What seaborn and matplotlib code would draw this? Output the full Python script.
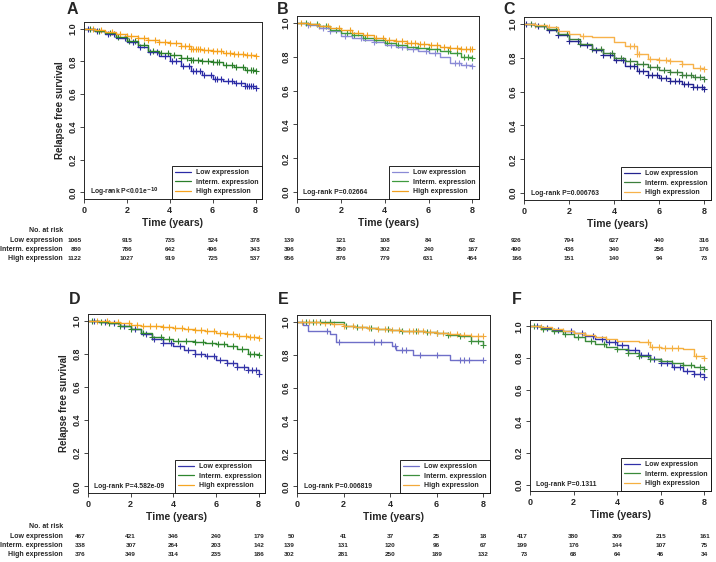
import numpy as np
import seaborn as sns
import matplotlib.pyplot as plt
from matplotlib.lines import Line2D
from matplotlib import transforms

sns.set_style("ticks")
plt.rcParams["font.family"] = ["Liberation Sans", "DejaVu Sans"]
plt.rcParams["font.weight"] = "bold"
plt.rcParams["axes.linewidth"] = 0.7

groups = ["Low expression", "Interm. expression", "High expression"]
tick_times = [0, 2, 4, 6, 8]
t_grid = [0, 0.5, 1, 1.5, 2, 2.5, 3, 3.5, 4, 4.5, 5, 5.5, 6, 6.5, 7, 7.5, 8]

# ---- panel A
a_low = [1.0, 0.985, 0.967, 0.945, 0.917, 0.888, 0.856, 0.832, 0.805, 0.772, 0.738, 0.715, 0.695, 0.680, 0.665, 0.650, 0.638]
a_mid = [1.0, 0.988, 0.970, 0.950, 0.927, 0.897, 0.866, 0.852, 0.840, 0.822, 0.806, 0.800, 0.795, 0.780, 0.764, 0.750, 0.738]
a_high = [1.0, 0.990, 0.977, 0.967, 0.957, 0.943, 0.930, 0.920, 0.910, 0.893, 0.877, 0.868, 0.862, 0.853, 0.846, 0.840, 0.835]
a_low_cens = [0.2, 0.6, 1.1, 1.4, 1.9, 2.3, 2.6, 3.1, 3.4, 3.8, 4.1, 4.3, 4.6, 4.9, 5.1, 5.2, 5.4, 5.6, 5.9, 6.1, 6.2, 6.4, 6.7, 6.9, 7.1, 7.3, 7.5, 7.6, 7.7, 7.8, 7.9, 8.0]
a_mid_cens = [0.3, 0.7, 1.2, 1.6, 2.1, 2.4, 2.8, 3.2, 3.6, 3.9, 4.2, 4.5, 4.8, 5.0, 5.1, 5.3, 5.5, 5.8, 6.0, 6.2, 6.3, 6.6, 6.9, 7.1, 7.4, 7.6, 7.8, 7.9, 8.0]
a_high_cens = [0.4, 0.8, 1.3, 1.7, 2.0, 2.2, 2.5, 2.8, 3.0, 3.3, 3.5, 3.8, 4.0, 4.3, 4.5, 4.7, 4.9, 5.0, 5.1, 5.2, 5.3, 5.4, 5.6, 5.8, 6.0, 6.2, 6.4, 6.6, 6.8, 7.0, 7.2, 7.4, 7.6, 7.8, 8.0]

# ---- panel B
b_low = [1.0, 0.985, 0.970, 0.950, 0.920, 0.910, 0.900, 0.885, 0.870, 0.858, 0.845, 0.832, 0.820, 0.800, 0.760, 0.748, 0.745]
b_mid = [1.0, 0.990, 0.980, 0.960, 0.940, 0.925, 0.910, 0.897, 0.883, 0.870, 0.860, 0.852, 0.845, 0.832, 0.820, 0.800, 0.790]
b_high = [1.0, 0.990, 0.980, 0.970, 0.959, 0.940, 0.925, 0.912, 0.900, 0.890, 0.880, 0.875, 0.870, 0.860, 0.850, 0.847, 0.845]
b_low_cens = [0.5, 1.2, 1.5, 2.2, 2.9, 3.5, 4.3, 4.8, 5.3, 5.9, 6.3, 7.2, 7.4, 7.7, 8.0]
b_mid_cens = [0.4, 0.9, 1.3, 1.8, 2.3, 2.6, 3.1, 3.6, 4.1, 4.6, 5.0, 5.5, 6.0, 6.4, 6.9, 7.3, 7.6, 7.8, 8.0]
b_high_cens = [0.2, 0.6, 1.0, 1.4, 1.9, 2.4, 2.8, 3.2, 3.6, 3.9, 4.2, 4.5, 4.8, 5.0, 5.2, 5.4, 5.6, 5.8, 6.1, 6.4, 6.7, 7.0, 7.3, 7.5, 7.7, 7.9, 8.0]

# ---- panel C
c_low = [1.0, 0.985, 0.965, 0.935, 0.900, 0.872, 0.845, 0.815, 0.787, 0.752, 0.720, 0.700, 0.680, 0.662, 0.645, 0.628, 0.615]
c_mid = [1.0, 0.988, 0.970, 0.940, 0.910, 0.880, 0.850, 0.825, 0.800, 0.780, 0.760, 0.745, 0.730, 0.715, 0.700, 0.688, 0.675]
c_high = [1.0, 0.990, 0.980, 0.960, 0.940, 0.930, 0.923, 0.920, 0.890, 0.870, 0.820, 0.790, 0.785, 0.780, 0.760, 0.740, 0.735]
c_low_cens = [0.1, 0.6, 1.1, 1.5, 2.0, 2.4, 2.8, 3.2, 3.5, 3.8, 4.1, 4.4, 4.7, 4.9, 5.1, 5.3, 5.5, 5.7, 5.9, 6.1, 6.3, 6.5, 6.7, 6.9, 7.1, 7.3, 7.5, 7.7, 7.9, 8.0]
c_mid_cens = [0.3, 0.9, 1.4, 1.9, 2.5, 3.0, 3.4, 3.9, 4.3, 4.7, 5.0, 5.3, 5.6, 5.9, 6.2, 6.5, 6.8, 7.0, 7.2, 7.4, 7.6, 7.8, 8.0]
c_high_cens = [0.5, 1.1, 2.6, 4.7, 4.9, 5.0, 5.1, 5.6, 6.0, 6.3, 6.5, 7.0, 7.8, 8.0]

# ---- panel D
d_low = [1.0, 0.993, 0.985, 0.970, 0.950, 0.920, 0.890, 0.865, 0.845, 0.820, 0.800, 0.785, 0.765, 0.745, 0.720, 0.700, 0.680]
d_mid = [1.0, 0.993, 0.985, 0.970, 0.950, 0.925, 0.900, 0.890, 0.880, 0.875, 0.870, 0.866, 0.860, 0.845, 0.830, 0.800, 0.790]
d_high = [1.0, 0.995, 0.990, 0.983, 0.975, 0.970, 0.965, 0.960, 0.955, 0.950, 0.945, 0.935, 0.925, 0.917, 0.910, 0.900, 0.895]
d_low_cens = [0.3, 0.8, 1.2, 1.7, 2.2, 2.7, 3.1, 3.5, 3.9, 4.3, 4.7, 5.0, 5.3, 5.6, 5.9, 6.2, 6.5, 6.8, 7.0, 7.3, 7.5, 7.7, 7.9, 8.0]
d_mid_cens = [0.2, 0.6, 1.0, 1.5, 2.0, 2.6, 3.0, 3.4, 3.8, 4.2, 4.6, 5.0, 5.4, 5.8, 6.1, 6.4, 6.8, 7.2, 7.6, 7.8, 8.0]
d_high_cens = [0.4, 0.9, 1.4, 1.9, 2.3, 2.6, 2.9, 3.2, 3.5, 3.8, 4.1, 4.4, 4.7, 5.0, 5.3, 5.6, 5.9, 6.2, 6.5, 6.8, 7.1, 7.4, 7.6, 7.8, 8.0]

# ---- panel E
e_low_t = [0, 0.27, 0.48, 1.4, 1.66, 4.1, 4.24, 5.0, 6.58, 8.0]
e_low = [1.0, 0.98, 0.94, 0.925, 0.875, 0.85, 0.83, 0.80, 0.77, 0.77]
e_mid = [1.0, 1.0, 1.0, 1.0, 0.975, 0.967, 0.960, 0.955, 0.950, 0.945, 0.940, 0.935, 0.930, 0.920, 0.910, 0.880, 0.860]
e_high = [1.0, 1.0, 0.990, 0.985, 0.975, 0.967, 0.960, 0.955, 0.950, 0.945, 0.940, 0.935, 0.930, 0.925, 0.920, 0.915, 0.910]
e_low_cens = [1.3, 1.8, 3.3, 3.6, 4.2, 4.5, 4.7, 5.3, 6.0, 7.0, 7.2, 7.4, 8.0]
e_mid_cens = [0.4, 0.7, 1.0, 1.4, 2.1, 2.6, 3.2, 3.9, 4.5, 5.1, 5.6, 6.0, 6.5, 7.0, 7.5, 7.8, 8.0]
e_high_cens = [0.2, 0.5, 0.8, 1.2, 1.6, 2.0, 2.4, 2.8, 3.1, 3.5, 3.8, 4.1, 4.4, 4.8, 5.0, 5.2, 5.4, 5.7, 6.0, 6.3, 6.6, 6.9, 7.2, 7.5, 7.8, 8.0]

# ---- panel F
f_low = [1.0, 0.990, 0.980, 0.970, 0.955, 0.940, 0.920, 0.900, 0.880, 0.850, 0.820, 0.795, 0.770, 0.745, 0.720, 0.700, 0.680]
f_mid = [1.0, 0.985, 0.970, 0.950, 0.930, 0.910, 0.890, 0.872, 0.855, 0.832, 0.810, 0.795, 0.780, 0.768, 0.755, 0.742, 0.730]
f_high = [1.0, 0.993, 0.985, 0.972, 0.960, 0.945, 0.930, 0.920, 0.910, 0.905, 0.900, 0.868, 0.865, 0.862, 0.860, 0.810, 0.800]
f_low_cens = [0.3, 0.8, 1.3, 1.9, 2.4, 2.9, 3.3, 3.6, 3.9, 4.2, 4.5, 4.8, 5.1, 5.4, 5.7, 6.0, 6.3, 6.6, 6.9, 7.2, 7.5, 7.8, 8.0]
f_mid_cens = [0.2, 0.6, 1.1, 1.6, 2.2, 2.8, 3.4, 4.0, 4.5, 5.0, 5.5, 6.0, 6.5, 7.0, 7.4, 7.8, 8.0]
f_high_cens = [0.5, 1.5, 2.5, 3.5, 5.4, 5.6, 5.9, 6.2, 6.5, 6.8, 7.6, 8.0]

pvals = ["Log-rank P<0.01e$^{-10}$", "Log-rank P=0.02664", "Log-rank P=0.006763",
         "Log-rank P=4.582e-09", "Log-rank P=0.006819", "Log-rank P=0.1311"]
letters = ["A", "B", "C", "D", "E", "F"]

risk_a = [[1065, 915, 735, 524, 378], [880, 786, 642, 496, 343], [1122, 1027, 919, 725, 537]]
risk_b = [[139, 121, 108, 84, 62], [396, 350, 302, 240, 167], [956, 876, 779, 631, 464]]
risk_c = [[926, 794, 627, 440, 316], [490, 436, 340, 256, 176], [166, 151, 140, 94, 73]]
risk_d = [[467, 421, 346, 240, 179], [338, 307, 264, 203, 142], [376, 349, 314, 235, 186]]
risk_e = [[50, 41, 37, 25, 18], [139, 131, 120, 96, 67], [302, 281, 250, 189, 132]]
risk_f = [[417, 380, 309, 215, 161], [199, 176, 144, 107, 75], [73, 68, 64, 46, 34]]

colors_a = ["#2B2BA6", "#2A7F2A", "#F6A21E"]
colors_b = ["#8A8AD6", "#3E9A3E", "#F0A020"]
colors_c = ["#23238F", "#3C7F3C", "#F7B24A"]
colors_d = ["#3434A8", "#2E862E", "#F5A623"]
colors_e = ["#6F6FC8", "#3D8F3D", "#F2A93B"]
colors_f = ["#3030A8", "#3A8A3A", "#F5B040"]

panels = [
    dict(curves=[(t_grid, a_low, a_low_cens), (t_grid, a_mid, a_mid_cens), (t_grid, a_high, a_high_cens)],
         colors=colors_a, risk=risk_a, box=(84, 262, 22, 199), letter_xy=(72, 10), first=True),
    dict(curves=[(t_grid, b_low, b_low_cens), (t_grid, b_mid, b_mid_cens), (t_grid, b_high, b_high_cens)],
         colors=colors_b, risk=risk_b, box=(297, 479, 16, 199), letter_xy=(283, 10), first=False),
    dict(curves=[(t_grid, c_low, c_low_cens), (t_grid, c_mid, c_mid_cens), (t_grid, c_high, c_high_cens)],
         colors=colors_c, risk=risk_c, box=(524, 711, 17, 200), letter_xy=(509, 10), first=False),
    dict(curves=[(t_grid, d_low, d_low_cens), (t_grid, d_mid, d_mid_cens), (t_grid, d_high, d_high_cens)],
         colors=colors_d, risk=risk_d, box=(88, 265, 314, 493), letter_xy=(75, 300), first=True),
    dict(curves=[(e_low_t, e_low, e_low_cens), (t_grid, e_mid, e_mid_cens), (t_grid, e_high, e_high_cens)],
         colors=colors_e, risk=risk_e, box=(297, 490, 315, 493), letter_xy=(283, 300), first=False),
    dict(curves=[(t_grid, f_low, f_low_cens), (t_grid, f_mid, f_mid_cens), (t_grid, f_high, f_high_cens)],
         colors=colors_f, risk=risk_f, box=(530, 711, 320, 491), letter_xy=(517, 300), first=False),
]

W, H = 716, 562
fig = plt.figure(figsize=(W / 100, H / 100), dpi=100)


def step_at(times, surv, c):
    i = np.searchsorted(times, c, side="right") - 1
    return np.asarray(surv)[i]


for k, p in enumerate(panels):
    l, r, t, b = p["box"]
    ax = fig.add_axes([l / W, 1 - b / H, (r - l) / W, (b - t) / H])
    for (times, surv, cens), col in zip(p["curves"], p["colors"]):
        sns.lineplot(x=times, y=surv, drawstyle="steps-post", color=col, lw=1.0,
                     estimator=None, sort=False, ax=ax)
        cy = step_at(np.asarray(times), surv, np.asarray(cens))
        sns.scatterplot(x=cens, y=cy, marker="+", s=20, color=col, linewidth=0.8, ax=ax)
    ax.set_xlim(0, 8.3)
    ax.set_ylim(-0.04, 1.04)
    ax.set_xticks(tick_times)
    ax.set_yticks([0, 0.2, 0.4, 0.6, 0.8, 1.0])
    ax.set_yticklabels(["0.0", "0.2", "0.4", "0.6", "0.8", "1.0"], rotation=90, va="center")
    ax.tick_params(length=3, width=0.6, labelsize=6.5, pad=2)
    ax.tick_params(axis="y", pad=1.5)
    ax.set_xlabel("Time (years)", fontsize=7.5, fontweight="bold", labelpad=2)
    if p["first"]:
        ax.set_ylabel("Relapse free survival", fontsize=7, fontweight="bold", labelpad=3)
    handles = [Line2D([0], [0], color=c, lw=0.9) for c in p["colors"]]
    leg = ax.legend(handles, groups, loc="lower right", borderaxespad=0, frameon=True,
                    fancybox=False, edgecolor="black", framealpha=1,
                    prop=dict(size=5.0, weight="bold"), handlelength=2.2,
                    handletextpad=0.7, labelspacing=0.35, borderpad=0.55)
    leg.get_frame().set_linewidth(0.6)
    ax.text(0.035, 0.0, pvals[k], transform=transforms.blended_transform_factory(ax.transAxes, ax.transData),
            fontsize=4.9, fontweight="bold", va="center", ha="left")
    lx, ly = p["letter_xy"]
    fig.text(lx / W, 1 - ly / H, letters[k], fontsize=11.5, fontweight="bold", ha="center", va="center")
    # risk table
    base = 230 if k < 3 else 526
    tr = transforms.blended_transform_factory(ax.transData, fig.transFigure)
    if p["first"]:
        fig.text(63 / W, 1 - base / H, "No. at risk", fontsize=5.0, fontweight="bold",
                 ha="right", va="center")
        for j, g in enumerate(groups):
            fig.text(63 / W, 1 - (base + 10 + 9.3 * j) / H, g, fontsize=5.0, fontweight="bold",
                     ha="right", va="center")
    for j, row in enumerate(p["risk"]):
        for i, (tt, n) in enumerate(zip(tick_times, row)):
            ax.text(tt - 0.1 if i == 0 else tt, 1 - (base + 10 + 9.3 * j) / H, str(n), transform=tr,
                    fontsize=4.6, fontweight="bold", ha="right" if i == 0 else "center", va="center")

fig.savefig("out.png", dpi=100)
